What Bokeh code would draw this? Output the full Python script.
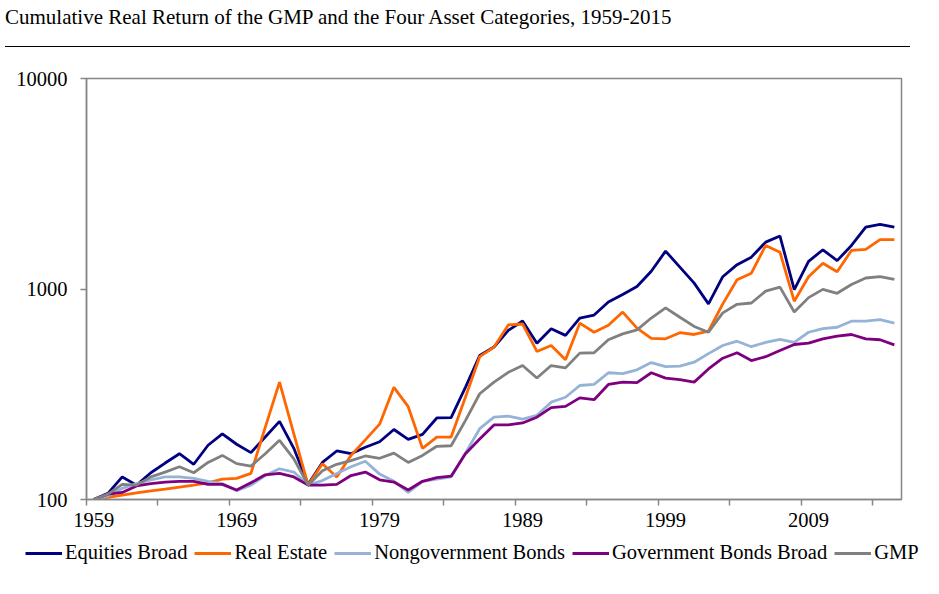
from bokeh.plotting import figure
from bokeh.models import Div, FixedTicker, Legend, LegendItem
from bokeh.layouts import column, row
from bokeh.embed import file_html
from bokeh.resources import INLINE

title_text = "Cumulative Real Return of the GMP and the Four Asset Categories, 1959-2015"

years = list(range(1959, 2016))

equities_broad = [100, 107, 128, 117, 134, 149, 165, 147, 181, 205, 183, 167, 198, 235, 175, 118,
                  150, 170, 165, 177, 188, 215, 193, 204, 244, 245, 341, 483, 530, 636,
                  705, 553, 647, 602, 728, 752, 867, 942, 1028, 1215, 1513, 1271, 1066, 850,
                  1144, 1305, 1417, 1670, 1784, 993, 1352, 1536, 1364, 1610, 1968, 2025, 1968]
real_estate = [100, 102.5, 105, 107.5, 110, 112, 114.5, 117, 120, 125, 126, 133, 220, 361, 205, 117,
               148, 128, 162, 192, 228, 341, 276, 175, 198, 198, 306, 477, 530, 675,
               682, 505, 539, 461, 688, 623, 672, 777, 652, 583, 580, 620, 608, 630,
               850, 1106, 1189, 1610, 1495, 875, 1144, 1326, 1208, 1525, 1541, 1718, 1718]
nongov_bonds = [100, 104, 113, 119, 124, 128, 128, 126, 122, 119, 110, 117, 130, 140, 135, 117,
                123, 133, 143, 152, 132, 122, 108, 122, 125, 128, 166, 217, 246, 249,
                241, 251, 290, 306, 348, 352, 400, 396, 413, 447, 428, 430, 449, 493,
                539, 565, 532, 558, 577, 558, 623, 649, 658, 703, 703, 715, 689]
gov_bonds = [100, 106, 108, 116, 119, 121, 122, 122, 118, 118, 111, 120, 131, 133, 128, 117,
             117, 118, 130, 135, 124, 121, 111, 122, 127, 129, 165, 194, 226, 226,
             231, 246, 273, 277, 304, 298, 352, 361, 359, 400, 377, 371, 361, 417,
             469, 498, 457, 477, 510, 545, 553, 580, 597, 608, 580, 574, 543]
gmp = [100, 106, 118, 117, 128, 135, 143, 134, 150, 162, 148, 144, 165, 191, 156, 117,
       137, 147, 153, 161, 157, 166, 150, 162, 179, 180, 237, 318, 361, 402,
       433, 378, 433, 422, 496, 498, 574, 612, 639, 728, 813, 734, 664, 623,
       770, 846, 858, 977, 1021, 777, 910, 996, 954, 1050, 1128, 1144, 1110]

series_names = ["Equities Broad", "Real Estate", "Nongovernment Bonds", "Government Bonds Broad", "GMP"]
series_values = [equities_broad, real_estate, nongov_bonds, gov_bonds, gmp]
series_colors = ["#000080", "#FF6600", "#95B3D7", "#7F007F", "#808080"]

x_label_years = [1959, 1969, 1979, 1989, 1999, 2009]
x_minor_ticks = [1958.5 + 5 * k for k in range(12)]
y_ticks = [100, 1000, 10000]
y_tick_labels = ["100", "1000", "10000"]

FONT = "Liberation Serif"
AXIS_GRAY = "#868686"
LABEL_SIZE = "20.5px"
LINE_W = 2.8

div = Div(text=title_text, width=905, height=42,
          styles={"font-family": FONT, "font-size": "21px", "color": "black",
                  "border-bottom": "1.5px solid black", "line-height": "24px",
                  "white-space": "nowrap"})

p = figure(width=931, height=487, y_axis_type="log",
           x_range=(1958.5, 2015.5), y_range=(100, 10000),
           output_backend="svg", toolbar_location=None,
           min_border_left=86, min_border_right=30, min_border_top=26, min_border_bottom=40,
           outline_line_color=AXIS_GRAY, outline_line_width=1.5)
p.xgrid.visible = False
p.ygrid.visible = False

renderers = []
for name, vals, col in zip(series_names, series_values, series_colors):
    r = p.line(years, vals, line_color=col, line_width=LINE_W)
    renderers.append((name, r))

# x axis
p.xaxis.ticker = FixedTicker(ticks=x_label_years, minor_ticks=x_minor_ticks)
p.xaxis.major_tick_line_color = None
p.xaxis.major_tick_out = 6
p.xaxis.major_tick_in = 0
p.xaxis.minor_tick_out = 6
p.xaxis.minor_tick_in = 0
p.xaxis.minor_tick_line_color = AXIS_GRAY
p.xaxis.minor_tick_line_width = 1.5
p.xaxis.major_label_standoff = 7

# y axis
p.yaxis.ticker = FixedTicker(ticks=y_ticks, minor_ticks=[])
p.yaxis.major_label_overrides = {t: l for t, l in zip(y_ticks, y_tick_labels)}
p.yaxis.major_tick_out = 6
p.yaxis.major_tick_in = 0
p.yaxis.major_tick_line_color = AXIS_GRAY
p.yaxis.major_tick_line_width = 1.5
p.yaxis.major_label_standoff = 13

for ax in (p.xaxis[0], p.yaxis[0]):
    ax.axis_line_color = AXIS_GRAY
    ax.axis_line_width = 1.5
    ax.major_label_text_font = FONT
    ax.major_label_text_font_size = LABEL_SIZE
    ax.major_label_text_color = "black"

# legend figure (legend only; its line samples use the same styles as the chart lines)
lf = figure(width=931, height=30, output_backend="svg", toolbar_location=None,
            min_border=0, outline_line_color=None, x_range=(0, 1), y_range=(0, 1),
            x_axis_location=None, y_axis_location=None)
lf.grid.visible = False
items = []
for name, col in zip(series_names, series_colors):
    r = lf.line([-2, -1], [-2, -1], line_color=col, line_width=LINE_W)
    items.append(LegendItem(label=name, renderers=[r]))
legend = Legend(items=items, orientation="horizontal", location=(25, 5),
                label_text_font=FONT, label_text_font_size=LABEL_SIZE, label_text_color="black",
                glyph_width=37, glyph_height=20, label_standoff=3, spacing=7,
                padding=0, margin=0, border_line_color=None, background_fill_alpha=0)
lf.add_layout(legend)

layout = column(div, p, row(lf))
open("out.html", "w").write(file_html(layout, INLINE))
